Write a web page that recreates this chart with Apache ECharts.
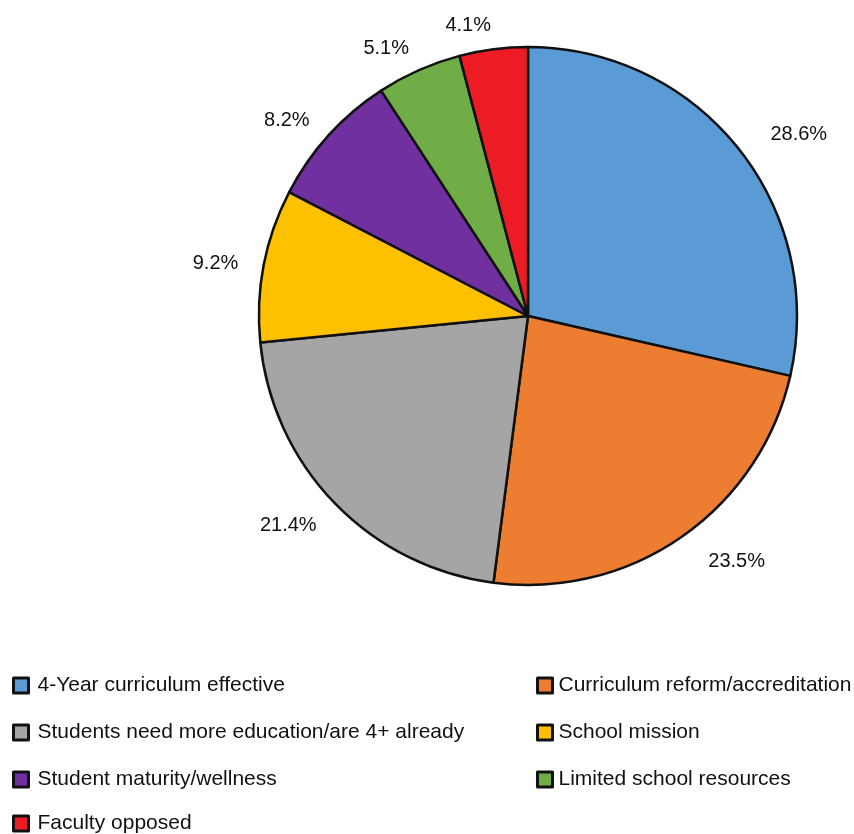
<!DOCTYPE html>
<html>
<head>
<meta charset="utf-8">
<script src="https://cdn.jsdelivr.net/npm/echarts@6/dist/echarts.min.js"></script>
<style>
    html, body { margin: 0; padding: 0; background: #fff; }
    #chart { width: 854px; height: 834px; }
</style>
</head>
<body>
<div id="chart"></div>
<script>
// data
const categories = [
    '4-Year curriculum effective',
    'Curriculum reform/accreditation',
    'Students need more education/are 4+ already',
    'School mission',
    'Student maturity/wellness',
    'Limited school resources',
    'Faculty opposed'
]
const percents = [28.6, 23.5, 21.4, 9.2, 8.2, 5.1, 4.1]
const colors = ['#5b9bd5', '#ed7d31', '#a5a5a5', '#ffc000', '#7030a0', '#70ad47', '#ed1c24']

// legend slots: [left, row centre y] for each category
const legendPos = [
    [12, 684], [536, 684],
    [12, 731], [536, 731],
    [12, 778], [536, 778],
    [12, 822]
]

const myChart = echarts.init(document.getElementById('chart'))

let legends = categories.map((name, i) => ({
    left: legendPos[i][0],
    top: legendPos[i][1] - 9,
    padding: 0,
    data: [name],
    icon: 'rect',
    itemWidth: 15,
    itemHeight: 15,
    itemGap: 0,
    selectedMode: false,
    itemStyle: {
        borderColor: '#111',
        borderWidth: 3
    },
    textStyle: {
        fontFamily: 'Liberation Sans, Arial, sans-serif',
        fontSize: 21,
        color: '#111',
        padding: [0, 0, 0, i % 2 ? 1 : 4]
    }
}))

let option = {
    animation: false,
    color: colors,
    legend: legends,
    series: [{
        type: 'pie',
        center: [528, 316],
        radius: [0, 269],
        startAngle: 90,
        clockwise: true,
        itemStyle: {
            borderColor: '#111',
            borderWidth: 2.5
        },
        label: {
            show: true,
            position: 'outside',
            formatter: (p) => p.value.toFixed(1) + '%',
            fontFamily: 'Liberation Sans, Arial, sans-serif',
            fontSize: 20,
            color: '#111'
        },
        labelLine: {
            show: false,
            length: 27,
            length2: 0
        },
        labelLayout: () => ({ dx: 6, dy: 3 }),
        data: categories.map((name, i) => ({ name: name, value: percents[i] }))
    }]
}

myChart.setOption(option)
</script>
</body>
</html>
